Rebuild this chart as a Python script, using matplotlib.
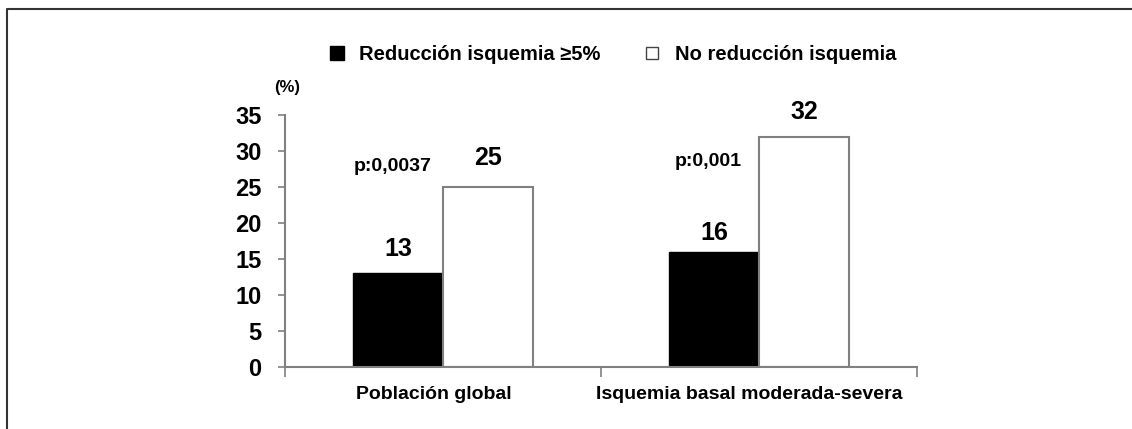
import matplotlib
matplotlib.use("Agg")
import matplotlib.pyplot as plt
from matplotlib.lines import Line2D
import numpy as np

# data
categories = ["Población global", "Isquemia basal moderada-severa"]
series_names = ["Reducción isquemia ≥5%", "No reducción isquemia"]
reduccion = [13, 16]
no_reduccion = [25, 32]
p_values = ["p:0,0037", "p:0,001"]
y_ticks = [0, 5, 10, 15, 20, 25, 30, 35]

plt.rcParams['font.family'] = ['Liberation Sans', 'DejaVu Sans']
plt.rcParams['font.weight'] = 'bold'

W, H = 1132, 429
fig = plt.figure(figsize=(W / 100, H / 100), dpi=100)
ax = fig.add_axes([285 / W, 1 - 367 / H, (917 - 285) / W, (367 - 115) / H])

axis_col = "#808080"
x = np.arange(len(categories))
bw = 0.285

b1 = ax.bar(x - bw / 2, reduccion, bw, color="black", edgecolor="black", linewidth=1)
b2 = ax.bar(x + bw / 2, no_reduccion, bw, color="white", edgecolor=axis_col, linewidth=1.5)

# value labels
for bars, offs in ((b1, [9, 5]), (b2, [12, 9])):
    for rect, o in zip(bars, offs):
        ax.annotate(f"{rect.get_height():g}",
                    (rect.get_x() + rect.get_width() / 2, rect.get_height()),
                    xytext=(0, o), textcoords="offset points",
                    ha="center", va="bottom", fontsize=18, fontweight="bold")

# p values
for xi, (p, ydat) in enumerate(zip(p_values, [27.8, 28.5])):
    ax.text(xi - 0.16, ydat, p, ha="center", va="center", fontsize=14, fontweight="bold")

ax.set_xlim(-0.5, len(categories) - 0.5)
ax.set_ylim(0, 35)
ax.set_yticks(y_ticks)
ax.tick_params(axis="y", direction="out", length=5, width=1.2, color=axis_col,
               labelsize=17, pad=12)
for lab in ax.get_yticklabels():
    lab.set_fontweight("bold")

ax.set_xticks(x - 0.03)
ax.set_xticklabels(categories, fontsize=14, fontweight="bold")
ax.tick_params(axis="x", which="major", length=0, pad=14)
ax.set_xticks(np.arange(-0.5, len(categories)), minor=True)
ax.tick_params(axis="x", which="minor", direction="out", length=7, width=1.2, color=axis_col)

for s in ("top", "right"):
    ax.spines[s].set_visible(False)
for s in ("left", "bottom"):
    ax.spines[s].set_color(axis_col)
    ax.spines[s].set_linewidth(1.5)

ax.text(0.003, 1.108, "(%)", transform=ax.transAxes, ha="center", va="center",
        fontsize=12, fontweight="bold")

handles = [
    Line2D([], [], marker="s", linestyle="none", markersize=9.5,
           markerfacecolor="black", markeredgecolor="black"),
    Line2D([], [], marker="s", linestyle="none", markersize=8.5,
           markerfacecolor="white", markeredgecolor="#444444", markeredgewidth=1),
]
fig.legend(handles, series_names, loc="center", bbox_to_anchor=(0.540, 1 - 55 / H),
           ncol=2, frameon=False, handletextpad=0.6, columnspacing=2.1,
           handlelength=1.0, prop={"weight": "bold", "size": 14.5})

# outer frame
fig.add_artist(Line2D([7 / W, 7 / W, 1], [0, 1 - 9 / H, 1 - 9 / H],
                      transform=fig.transFigure, color="#333333", linewidth=1.5))

fig.savefig("out.png", dpi=100)
